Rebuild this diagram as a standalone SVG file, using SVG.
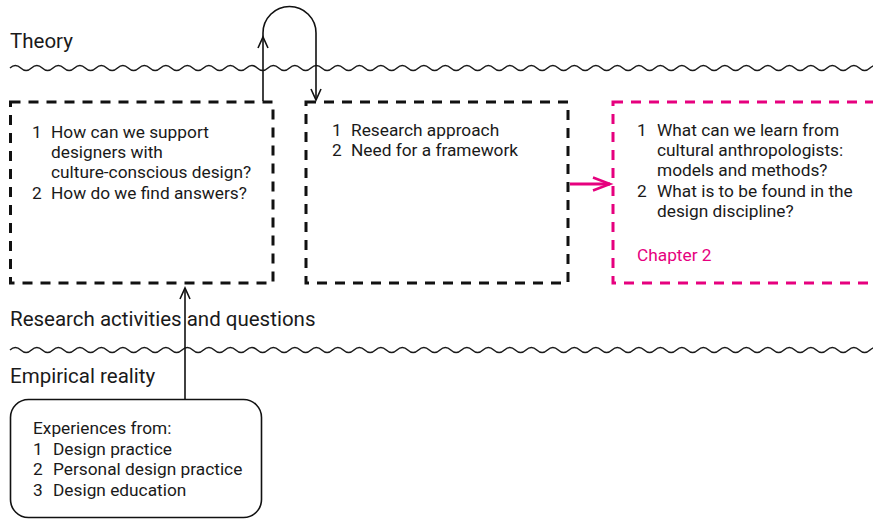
<svg xmlns="http://www.w3.org/2000/svg" width="873" height="519" viewBox="0 0 873 519">
<style>
text{font-family:Roboto,"Liberation Sans",sans-serif;fill:#1a1a1a}
.lbl{font-size:20.5px}
.t{font-size:17.3px}
.pk{fill:#e6007e}
.wave{fill:none;stroke:#1a1a1a;stroke-width:1.5}
.dbox{fill:none;stroke:#111;stroke-width:3;stroke-dasharray:10 8}
.pbox{fill:none;stroke:#e6007e;stroke-width:3;stroke-dasharray:10 8}
.conn{fill:none;stroke:#111;stroke-width:1.6}
</style>
<defs>
<marker id="ah" markerUnits="userSpaceOnUse" markerWidth="16" markerHeight="16" viewBox="-13 -8 16 16" refX="0" refY="0" orient="auto" overflow="visible">
<path d="M-11,-5 L0,0 L-11,5" fill="none" stroke="#111" stroke-width="1.6"/>
</marker>
<marker id="ahp" markerUnits="userSpaceOnUse" markerWidth="24" markerHeight="20" viewBox="-20 -10 24 20" refX="0" refY="0" orient="auto" overflow="visible">
<path d="M-17,-6.5 L0,0 L-17,6.5" fill="none" stroke="#e6007e" stroke-width="2.5"/>
</marker>
</defs>
<g id="layers">
<path class="wave" d="M10,68 q5.375,-5 10.75,0 t10.75,0 t10.75,0 t10.75,0 t10.75,0 t10.75,0 t10.75,0 t10.75,0 t10.75,0 t10.75,0 t10.75,0 t10.75,0 t10.75,0 t10.75,0 t10.75,0 t10.75,0 t10.75,0 t10.75,0 t10.75,0 t10.75,0 t10.75,0 t10.75,0 t10.75,0 t10.75,0 t10.75,0 t10.75,0 t10.75,0 t10.75,0 t10.75,0 t10.75,0 t10.75,0 t10.75,0 t10.75,0 t10.75,0 t10.75,0 t10.75,0 t10.75,0 t10.75,0 t10.75,0 t10.75,0 t10.75,0 t10.75,0 t10.75,0 t10.75,0 t10.75,0 t10.75,0 t10.75,0 t10.75,0 t10.75,0 t10.75,0 t10.75,0 t10.75,0 t10.75,0 t10.75,0 t10.75,0 t10.75,0 t10.75,0 t10.75,0 t10.75,0 t10.75,0 t10.75,0 t10.75,0 t10.75,0 t10.75,0 t10.75,0 t10.75,0 t10.75,0 t10.75,0 t10.75,0 t10.75,0 t10.75,0 t10.75,0 t10.75,0 t10.75,0 t10.75,0 t10.75,0 t10.75,0 t10.75,0 t10.75,0 t10.75,0 t10.75,0 t10.75,0"/>
<path class="wave" d="M10,350 q5.375,-5 10.75,0 t10.75,0 t10.75,0 t10.75,0 t10.75,0 t10.75,0 t10.75,0 t10.75,0 t10.75,0 t10.75,0 t10.75,0 t10.75,0 t10.75,0 t10.75,0 t10.75,0 t10.75,0 t10.75,0 t10.75,0 t10.75,0 t10.75,0 t10.75,0 t10.75,0 t10.75,0 t10.75,0 t10.75,0 t10.75,0 t10.75,0 t10.75,0 t10.75,0 t10.75,0 t10.75,0 t10.75,0 t10.75,0 t10.75,0 t10.75,0 t10.75,0 t10.75,0 t10.75,0 t10.75,0 t10.75,0 t10.75,0 t10.75,0 t10.75,0 t10.75,0 t10.75,0 t10.75,0 t10.75,0 t10.75,0 t10.75,0 t10.75,0 t10.75,0 t10.75,0 t10.75,0 t10.75,0 t10.75,0 t10.75,0 t10.75,0 t10.75,0 t10.75,0 t10.75,0 t10.75,0 t10.75,0 t10.75,0 t10.75,0 t10.75,0 t10.75,0 t10.75,0 t10.75,0 t10.75,0 t10.75,0 t10.75,0 t10.75,0 t10.75,0 t10.75,0 t10.75,0 t10.75,0 t10.75,0 t10.75,0 t10.75,0 t10.75,0 t10.75,0 t10.75,0"/>
<text class="lbl" x="10" y="48">Theory</text>
<text class="lbl" x="10" y="326">Research activities and questions</text>
<text class="lbl" x="10" y="383">Empirical reality</text>
</g>
<g id="connectors">
<path class="conn" d="M263,101 V37" marker-end="url(#ah)"/>
<path class="conn" d="M263,38 V33 A26.5,26.5 0 0 1 316,33 V100" marker-end="url(#ah)"/>
<path class="conn" d="M185,399 V288" marker-end="url(#ah)"/>
<path d="M570,184 H610" fill="none" stroke="#e6007e" stroke-width="3" marker-end="url(#ahp)"/>
</g>
<g id="node-questions">
<rect class="dbox" x="10.5" y="102" width="262.5" height="181"/>
<text class="t" x="32" y="138">1</text>
<text class="t" x="51" y="138">How can we support</text>
<text class="t" x="51" y="158">designers with</text>
<text class="t" x="51" y="178">culture-conscious design?</text>
<text class="t" x="32" y="199">2</text>
<text class="t" x="51" y="199">How do we find answers?</text>
</g>
<g id="node-approach">
<rect class="dbox" x="306" y="102" width="262" height="181"/>
<text class="t" x="332" y="136">1</text>
<text class="t" x="351" y="136">Research approach</text>
<text class="t" x="332" y="156">2</text>
<text class="t" x="351" y="156">Need for a framework</text>
</g>
<g id="node-chapter2">
<rect class="pbox" x="613" y="102" width="280" height="181"/>
<text class="t" x="637" y="136">1</text>
<text class="t" x="657" y="136">What can we learn from</text>
<text class="t" x="657" y="156">cultural anthropologists:</text>
<text class="t" x="657" y="176">models and methods?</text>
<text class="t" x="637" y="197">2</text>
<text class="t" x="657" y="197">What is to be found in the</text>
<text class="t" x="657" y="217">design discipline?</text>
<text class="t pk" x="637" y="261">Chapter 2</text>
</g>
<g id="node-experiences">
<rect x="10.5" y="399.5" width="251" height="118" rx="18" ry="18" fill="none" stroke="#111" stroke-width="1.6"/>
<text class="t" x="33" y="434">Experiences from:</text>
<text class="t" x="33" y="455">1</text>
<text class="t" x="53" y="455">Design practice</text>
<text class="t" x="33" y="475">2</text>
<text class="t" x="53" y="475">Personal design practice</text>
<text class="t" x="33" y="496">3</text>
<text class="t" x="53" y="496">Design education</text>
</g>
</svg>
